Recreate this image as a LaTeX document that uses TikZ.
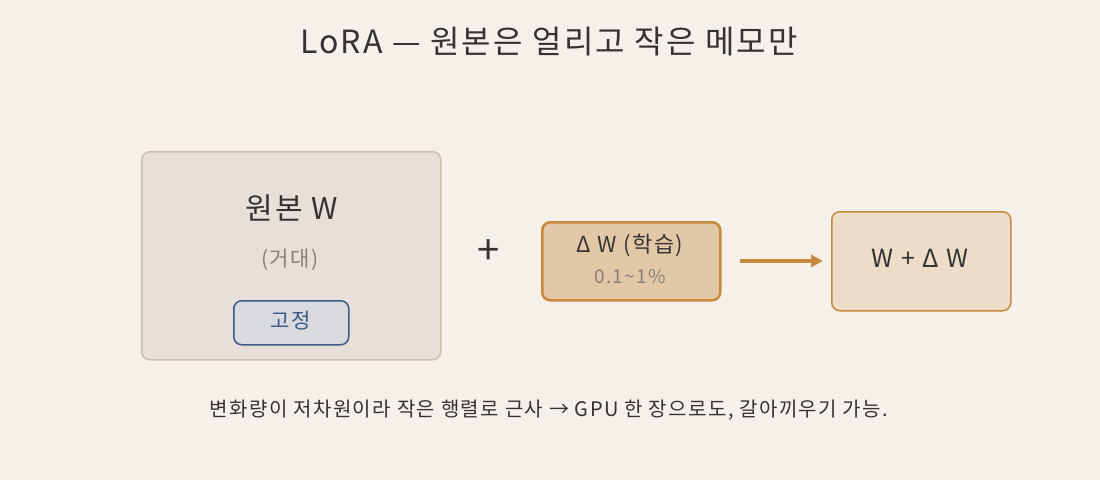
\documentclass[tikz,border=0pt]{standalone}
\usepackage{fontspec}
\setmainfont{Noto Sans CJK KR}[LetterSpace=7]
\usetikzlibrary{arrows.meta}
\definecolor{bg}{HTML}{F5F0EA}
\definecolor{bigf}{HTML}{E8E0D8}
\definecolor{bigd}{HTML}{C8C2B0}
\definecolor{fixf}{HTML}{D8DADE}
\definecolor{blu}{HTML}{3A5A8A}
\definecolor{orf}{HTML}{E3C8A8}
\definecolor{ord}{HTML}{C8883E}
\definecolor{resf}{HTML}{ECDCC8}
\definecolor{txt}{HTML}{333333}
\definecolor{gry}{HTML}{888078}
\begin{document}
\begin{tikzpicture}[x=1pt,y=-1pt,
  box/.style={rounded corners=8pt,line width=1.5pt,anchor=north west,inner sep=0pt},
  lbl/.style={text=txt,inner sep=0pt}]
\fill[bg] (0,0) rectangle (1100,480);
\useasboundingbox (0,0) rectangle (1100,480);
\node[lbl,font=\fontsize{32}{36}\selectfont] (title) at (549,42) {LoRA — 원본은 얼리고 작은 메모만};
\node[box,fill=bigf,draw=bigd,minimum width=299pt,minimum height=208pt] (big) at (141,151) {};
\node[lbl,font=\fontsize{30}{34}\selectfont] (w) at (292,208) {원본 W};
\node[lbl,text=gry,font=\fontsize{21}{24}\selectfont] (huge) at (290,260) {(거대)};
\node[box,fill=fixf,draw=blu,minimum width=115pt,minimum height=44pt] (fix) at (233,300) {};
\node[lbl,text=blu,font=\fontsize{21}{24}\selectfont] (fixt) at (290.5,321) {고정};
\node[lbl,font=\fontsize{40}{40}\selectfont\addfontfeature{LetterSpace=0}] (plus) at (489,252) {+};
\node[box,fill=orf,draw=ord,line width=2.5pt,minimum width=178pt,minimum height=78pt] (dw) at (541,221) {};
\node[lbl,font=\fontsize{22}{24}\selectfont] (dwt) at (630,246) {Δ W (학습)};
\node[lbl,text=gry,font=\fontsize{19}{22}\selectfont] (pct) at (630,277) {0.1\textasciitilde 1\%};
\node[box,fill=resf,draw=ord,minimum width=179pt,minimum height=99pt] (res) at (831,211) {};
\node[lbl,font=\fontsize{25}{28}\selectfont] (rest) at (920,258) {W + Δ W};
\coordinate (a1) at (740,261); \coordinate (a2) at (823,261);
\draw[ord,line width=4pt,-{Triangle[length=12pt,width=12pt]}] (a1) -- (a2);
\node[lbl,font=\fontsize{20}{22}\selectfont] (note) at (549,410) {변화량이 저차원이라 작은 행렬로 근사 → GPU 한 장으로도, 갈아끼우기 가능.};
\end{tikzpicture}
\end{document}
